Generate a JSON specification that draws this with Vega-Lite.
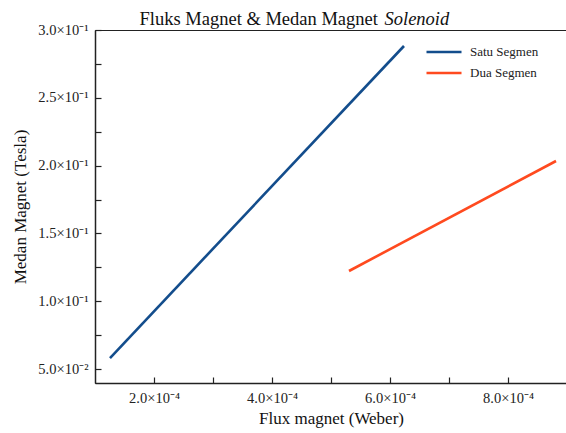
{
  "$schema": "https://vega.github.io/schema/vega-lite/v6.json",
  "autosize": "none",
  "padding": {"left": 95, "top": 30, "right": 0, "bottom": 50},
  "width": 472,
  "height": 353,
  "background": "white",
  "config": {
    "font": "Liberation Serif",
    "view": {"stroke": "#222", "strokeWidth": 1},
    "axis": {
      "labelFont": "Liberation Serif",
      "titleFont": "Liberation Serif",
      "labelColor": "#222",
      "titleColor": "#111",
      "titleFontWeight": "normal",
      "grid": false
    }
  },
  "data": {
    "values": [
      {"flux": 0.0001254, "medan": 0.0581, "series": "Satu Segmen"},
      {"flux": 0.0006237, "medan": 0.2882, "series": "Satu Segmen"},
      {"flux": 0.0005305, "medan": 0.1223, "series": "Dua Segmen"},
      {"flux": 0.0008814, "medan": 0.2034, "series": "Dua Segmen"}
    ]
  },
  "layer": [
    {
      "mark": {"type": "line", "strokeWidth": 2.6},
      "encoding": {
        "x": {
          "field": "flux", "type": "quantitative",
          "scale": {"domain": [0.0001, 0.0009], "nice": false, "zero": false},
          "axis": {
            "title": "Flux magnet (Weber)",
            "titleFontSize": 17,
            "titlePadding": 6,
            "labelFontSize": 14.5,
            "values": [0.0002, 0.0003, 0.0004, 0.0005, 0.0006, 0.0007, 0.0008],
            "labelExpr": "abs(datum.value*5000 - round(datum.value*5000)) > 0.01 ? '' : format(datum.value*10000, '.1f') + '×10⁻⁴'",
            "tickSize": -6,
            "tickColor": "#222",
            "tickWidth": 1.2,
            "labelPadding": 14,
            "domainColor": "#222",
            "domainWidth": 1.5
          }
        },
        "y": {
          "field": "medan", "type": "quantitative",
          "scale": {"domain": [0.0397, 0.3], "nice": false, "zero": false},
          "axis": {
            "title": "Medan Magnet (Tesla)",
            "titleFontSize": 17,
            "titlePadding": 8,
            "labelFontSize": 14.5,
            "values": [0.05, 0.075, 0.1, 0.125, 0.15, 0.175, 0.2, 0.225, 0.25, 0.275, 0.3],
            "labelExpr": "abs(datum.value*20 - round(datum.value*20)) > 0.01 ? '' : (datum.value < 0.099 ? format(datum.value*100, '.1f') + '×10⁻²' : format(datum.value*10, '.1f') + '×10⁻¹')",
            "tickSize": -6,
            "tickColor": "#222",
            "tickWidth": 1.2,
            "labelPadding": 13,
            "domainColor": "#222",
            "domainWidth": 1.5
          }
        },
        "color": {
          "field": "series", "type": "nominal",
          "scale": {"domain": ["Satu Segmen", "Dua Segmen"], "range": ["#134d8c", "#ff4a1f"]},
          "legend": {
            "title": null,
            "orient": "none",
            "legendX": 330,
            "legendY": 14,
            "padding": 0,
            "symbolType": "stroke",
            "symbolSize": 1225,
            "symbolStrokeWidth": 2.6,
            "labelFont": "Liberation Serif",
            "labelFontSize": 13,
            "labelColor": "#222",
            "labelOffset": 7,
            "clipHeight": 16,
            "rowPadding": 5
          }
        }
      }
    },
    {
      "mark": {"type": "point", "opacity": 0},
      "encoding": {
        "x": {
          "field": "flux", "type": "quantitative",
          "axis": {
            "orient": "top",
            "domain": false, "ticks": false, "labels": false,
            "title": "Fluks Magnet & Medan Magnet",
            "titleFontSize": 18.5,
            "titleAngle": 0,
            "titleX": 44,
            "titleY": -6,
            "titleAlign": "left",
            "titleBaseline": "alphabetic",
            "titleColor": "#111"
          }
        },
        "y": {
          "field": "medan", "type": "quantitative",
          "axis": {
            "orient": "right",
            "domain": false, "ticks": false, "labels": false,
            "title": "Solenoid",
            "titleFontSize": 18.5,
            "titleFontStyle": "italic",
            "titleAngle": 0,
            "titleX": -183,
            "titleY": -6,
            "titleAlign": "left",
            "titleBaseline": "alphabetic",
            "titleColor": "#111"
          }
        }
      }
    }
  ],
  "resolve": {"axis": {"x": "independent", "y": "independent"}}
}
